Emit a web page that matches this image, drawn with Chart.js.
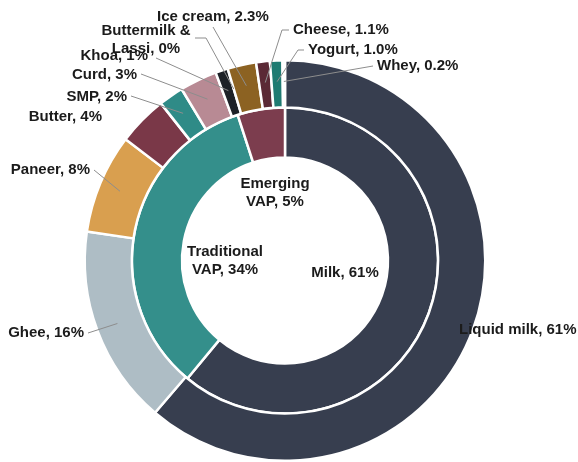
<!DOCTYPE html>
<html>
<head>
<meta charset="utf-8">
<script src="https://cdn.jsdelivr.net/npm/chart.js@4.4.1/dist/chart.umd.min.js"></script>
<style>
  html, body { margin: 0; padding: 0; background: #fff; }
  #wrap { width: 578px; height: 462px; }
</style>
</head>
<body>
<div id="wrap"><canvas id="dairyChart" width="578" height="462"></canvas></div>
<script>
// ==========================
// Data
// ==========================
const outerNames  = ['Liquid milk', 'Ghee', 'Paneer', 'Butter', 'SMP', 'Curd', 'Khoa',
                     'Buttermilk &\nLassi', 'Ice cream', 'Cheese', 'Yogurt', 'Whey'];
const outerValues = [61, 16, 8, 4, 2, 3, 1, 0, 2.3, 1.1, 1.0, 0.2];
const outerDigits = [0, 0, 0, 0, 0, 0, 0, 0, 1, 1, 1, 1];

const innerNames  = ['Milk', 'Traditional\nVAP', 'Emerging\nVAP'];
const innerValues = [61, 34, 5];

// ==========================
// Styles
// ==========================
const outerColors = ['#373e4f', '#aebdc5', '#d99f4f', '#7a3848', '#2f8b87', '#b88a94',
                     '#1d2127', '#5a5a5a', '#8c6222', '#5b2935', '#1f7b72', '#3b8f8a'];
const innerColors = ['#373e4f', '#348f8b', '#7c3d4e'];

// where each label sits, and where its leader line starts (end is taken from the arc)
const outerLabelLayout = [
  { x: 459, y: 330, align: 'left' },
  { x: 84,  y: 333, align: 'right',  line: [[88, 333]] },
  { x: 90,  y: 170, align: 'right',  line: [[94, 170]] },
  { x: 102, y: 117, align: 'right' },
  { x: 127, y: 97,  align: 'right',  line: [[131, 96]] },
  { x: 137, y: 75,  align: 'right',  line: [[141, 74]] },
  { x: 148, y: 56,  align: 'right',  line: [[156, 58]] },
  { x: 146, y: 31,  align: 'center', line: [[195, 38], [206, 38]] },
  { x: 157, y: 17,  align: 'left',   line: [[213, 27]] },
  { x: 293, y: 30,  align: 'left',   line: [[289, 30], [282, 30]] },
  { x: 308, y: 50,  align: 'left',   line: [[304, 50], [298, 50]] },
  { x: 377, y: 66,  align: 'left',   line: [[373, 66]] }
];
const innerLabelLayout = [
  { x: 345, y: 273, align: 'center' },
  { x: 225, y: 252, align: 'center' },
  { x: 275, y: 184, align: 'center' }
];

const fmt = (v, d) => v.toFixed(d);

// ==========================
// Leader-line labels plugin
// ==========================
const leaderLabels = {
  id: 'leaderLabels',
  afterDatasetsDraw(chart, args, opts) {
    const ctx = chart.ctx;
    ctx.save();
    ctx.font = 'bold 15px "Liberation Sans", Arial, sans-serif';
    ctx.textBaseline = 'middle';
    opts.rings.forEach(ring => {
      const meta = chart.getDatasetMeta(ring.dataset);
      ring.texts.forEach((txt, i) => {
        const lay = ring.layout[i];
        const arc = meta.data[i];
        if (lay.line) {
          const p = arc.getProps(['x', 'y', 'startAngle', 'endAngle', 'innerRadius', 'outerRadius'], true);
          const mid = (p.startAngle + p.endAngle) / 2;
          const r = p.innerRadius + (p.outerRadius - p.innerRadius) * 0.55;
          ctx.beginPath();
          ctx.strokeStyle = '#8d8d8d';
          ctx.lineWidth = 1;
          ctx.moveTo(lay.line[0][0], lay.line[0][1]);
          lay.line.slice(1).forEach(pt => ctx.lineTo(pt[0], pt[1]));
          ctx.lineTo(p.x + Math.cos(mid) * r, p.y + Math.sin(mid) * r);
          ctx.stroke();
        }
        ctx.fillStyle = '#1b1b1b';
        ctx.textAlign = lay.align;
        txt.split('\n').forEach((ln, k) => ctx.fillText(ln, lay.x, lay.y + k * 18));
      });
    });
    ctx.restore();
  }
};

const outerTexts = outerNames.map((n, i) => `${n}, ${fmt(outerValues[i], outerDigits[i])}%`);
const innerTexts = innerNames.map((n, i) => `${n}, ${innerValues[i]}%`);

new Chart(document.getElementById('dairyChart'), {
  type: 'doughnut',
  data: {
    labels: outerNames,
    datasets: [
      { data: outerValues, backgroundColor: outerColors, borderColor: '#fff', borderWidth: 2.5, weight: 48 },
      { data: innerValues, backgroundColor: innerColors, borderColor: '#fff', borderWidth: 2.5, weight: 51 }
    ]
  },
  options: {
    responsive: false,
    animation: false,
    events: [],
    cutout: 103,
    layout: { padding: { top: 59, bottom: 0, left: 0, right: 8 } },
    plugins: {
      legend: { display: false },
      tooltip: { enabled: false },
      leaderLabels: {
        rings: [
          { dataset: 0, texts: outerTexts, layout: outerLabelLayout },
          { dataset: 1, texts: innerTexts, layout: innerLabelLayout }
        ]
      }
    }
  },
  plugins: [leaderLabels]
});
</script>
</body>
</html>
